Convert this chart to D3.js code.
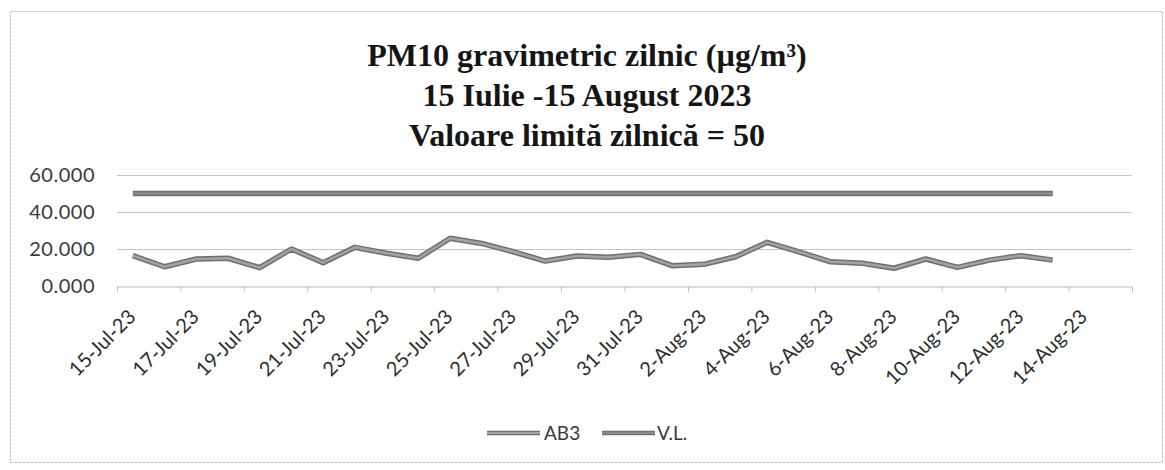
<!DOCTYPE html>
<html>
<head>
<meta charset="utf-8">
<script src="https://cdn.jsdelivr.net/npm/d3@7"></script>
<style>
  html, body { margin: 0; padding: 0; background: #fff; }
  svg { display: block; }
</style>
</head>
<body>
<svg id="chart" width="1165" height="470"></svg>
<script>
// ---- data ----
const titleLines = ["PM10 gravimetric zilnic (µg/m³)", "15 Iulie -15 August 2023", "Valoare limită zilnică = 50"];
const startDate = "2023-07-15";
const ab3Values = [16.4, 10.4, 14.6, 15.0, 9.9, 20.0, 12.6, 20.9, 17.7, 15.0,
                   25.8, 23.0, 18.5, 13.5, 16.2, 15.5, 17.1, 11.0, 11.7, 15.8,
                   23.6, 18.5, 13.1, 12.3, 9.6, 14.6, 10.1, 14.0, 16.4, 14.0];
const vlValues = ab3Values.map(() => 50);
const yTicks = [0, 20, 40, 60];
const seriesNames = ["AB3", "V.L."];

// ---- layout ----
const svg = d3.select("#chart");
const DAY = 86400000;
const t0 = new Date(startDate + "T00:00:00Z");
const dates = ab3Values.map((_, i) => new Date(t0.getTime() + i * DAY));
const axisEnd = new Date(t0.getTime() + 32 * DAY);
const tickDates = d3.range(0, 32, 2).map(i => new Date(t0.getTime() + i * DAY));

const x = d3.scaleUtc().domain([t0, axisEnd]).range([117, 1132]);
const y = d3.scaleLinear().domain([0, 60]).range([286, 175]);
const mid = d => new Date(d.getTime() + DAY / 2);
const fmt = d3.utcFormat("%-d-%b-%y");

// chart border
svg.append("rect").attr("x", 10.5).attr("y", 11.5).attr("width", 1152).attr("height", 451)
  .attr("fill", "none").attr("stroke", "#c4c4c4").attr("stroke-width", 1).attr("stroke-dasharray", "3,1");

// title
const title = svg.append("text").attr("text-anchor", "middle")
  .attr("font-family", "'Liberation Serif', 'Times New Roman', serif")
  .attr("font-weight", "bold").attr("font-size", 32).attr("fill", "#151515");
titleLines.forEach((t, i) => {
  title.append("tspan").attr("x", 587).attr("y", 66 + i * 40).text(t);
});

// gridlines
svg.append("g").selectAll("line").data(yTicks.filter(v => v > 0)).join("line")
  .attr("x1", x.range()[0]).attr("x2", x.range()[1])
  .attr("y1", d => y(d) + 0.5).attr("y2", d => y(d) + 0.5)
  .attr("stroke", "#c4c4c4").attr("stroke-width", 1);

// y axis labels
const yAxis = d3.axisLeft(y).tickValues(yTicks).tickSize(0).tickPadding(0).tickFormat(d3.format(".3f"));
const gy = svg.append("g").attr("transform", "translate(95,0)").call(yAxis);
gy.select(".domain").remove();
gy.selectAll("text").attr("font-family", "Lato, 'Open Sans', sans-serif").attr("font-size", 20)
  .attr("fill", "#3a3a3a").attr("letter-spacing", "0.5px");

// x axis (ticks only)
const xAxis = d3.axisBottom(x).tickValues(tickDates.concat([axisEnd])).tickSize(5).tickFormat("");
const gx = svg.append("g").attr("transform", `translate(0,${y(0) + 0.5})`).call(xAxis);
gx.select(".domain").attr("stroke", "#bdbdbd");
gx.selectAll(".tick line").attr("stroke", "#bdbdbd");

// x labels
svg.append("g").selectAll("text").data(tickDates).join("text")
  .attr("transform", d => `translate(${x(mid(d)) + 4},${y(0) + 32}) rotate(-45)`)
  .attr("text-anchor", "end")
  .attr("font-family", "Lato, 'Open Sans', sans-serif").attr("font-size", 20)
  .attr("fill", "#2e2e2e").text(d => fmt(d));

// lines
const line = d3.line().x((d, i) => x(mid(dates[i]))).y(d => y(d));
function drawSeries(values, outer, inner) {
  svg.append("path").datum(values).attr("d", line).attr("fill", "none")
    .attr("stroke", outer).attr("stroke-width", 5.5).attr("stroke-linejoin", "round");
  svg.append("path").datum(values).attr("d", line).attr("fill", "none")
    .attr("stroke", inner).attr("stroke-width", 2.5).attr("stroke-linejoin", "round");
}
drawSeries(vlValues, "#6f6f6f", "#8a8a8a");
drawSeries(ab3Values, "#707070", "#a2a2a2");

// legend
const legendItems = [
  { name: seriesNames[0], x1: 487, x2: 540, tx: 544, outer: "#707070", inner: "#a2a2a2" },
  { name: seriesNames[1], x1: 602, x2: 655, tx: 657, outer: "#6f6f6f", inner: "#8a8a8a" }
];
const lg = svg.append("g");
legendItems.forEach(it => {
  lg.append("line").attr("x1", it.x1).attr("x2", it.x2).attr("y1", 433).attr("y2", 433)
    .attr("stroke", it.outer).attr("stroke-width", 4.5);
  lg.append("line").attr("x1", it.x1).attr("x2", it.x2).attr("y1", 433).attr("y2", 433)
    .attr("stroke", it.inner).attr("stroke-width", 2);
  lg.append("text").attr("x", it.tx).attr("y", 433).attr("dy", "0.35em")
    .attr("font-family", "Lato, 'Open Sans', sans-serif").attr("font-size", 19)
    .attr("fill", "#3a3a3a").text(it.name);
});
</script>
</body>
</html>
